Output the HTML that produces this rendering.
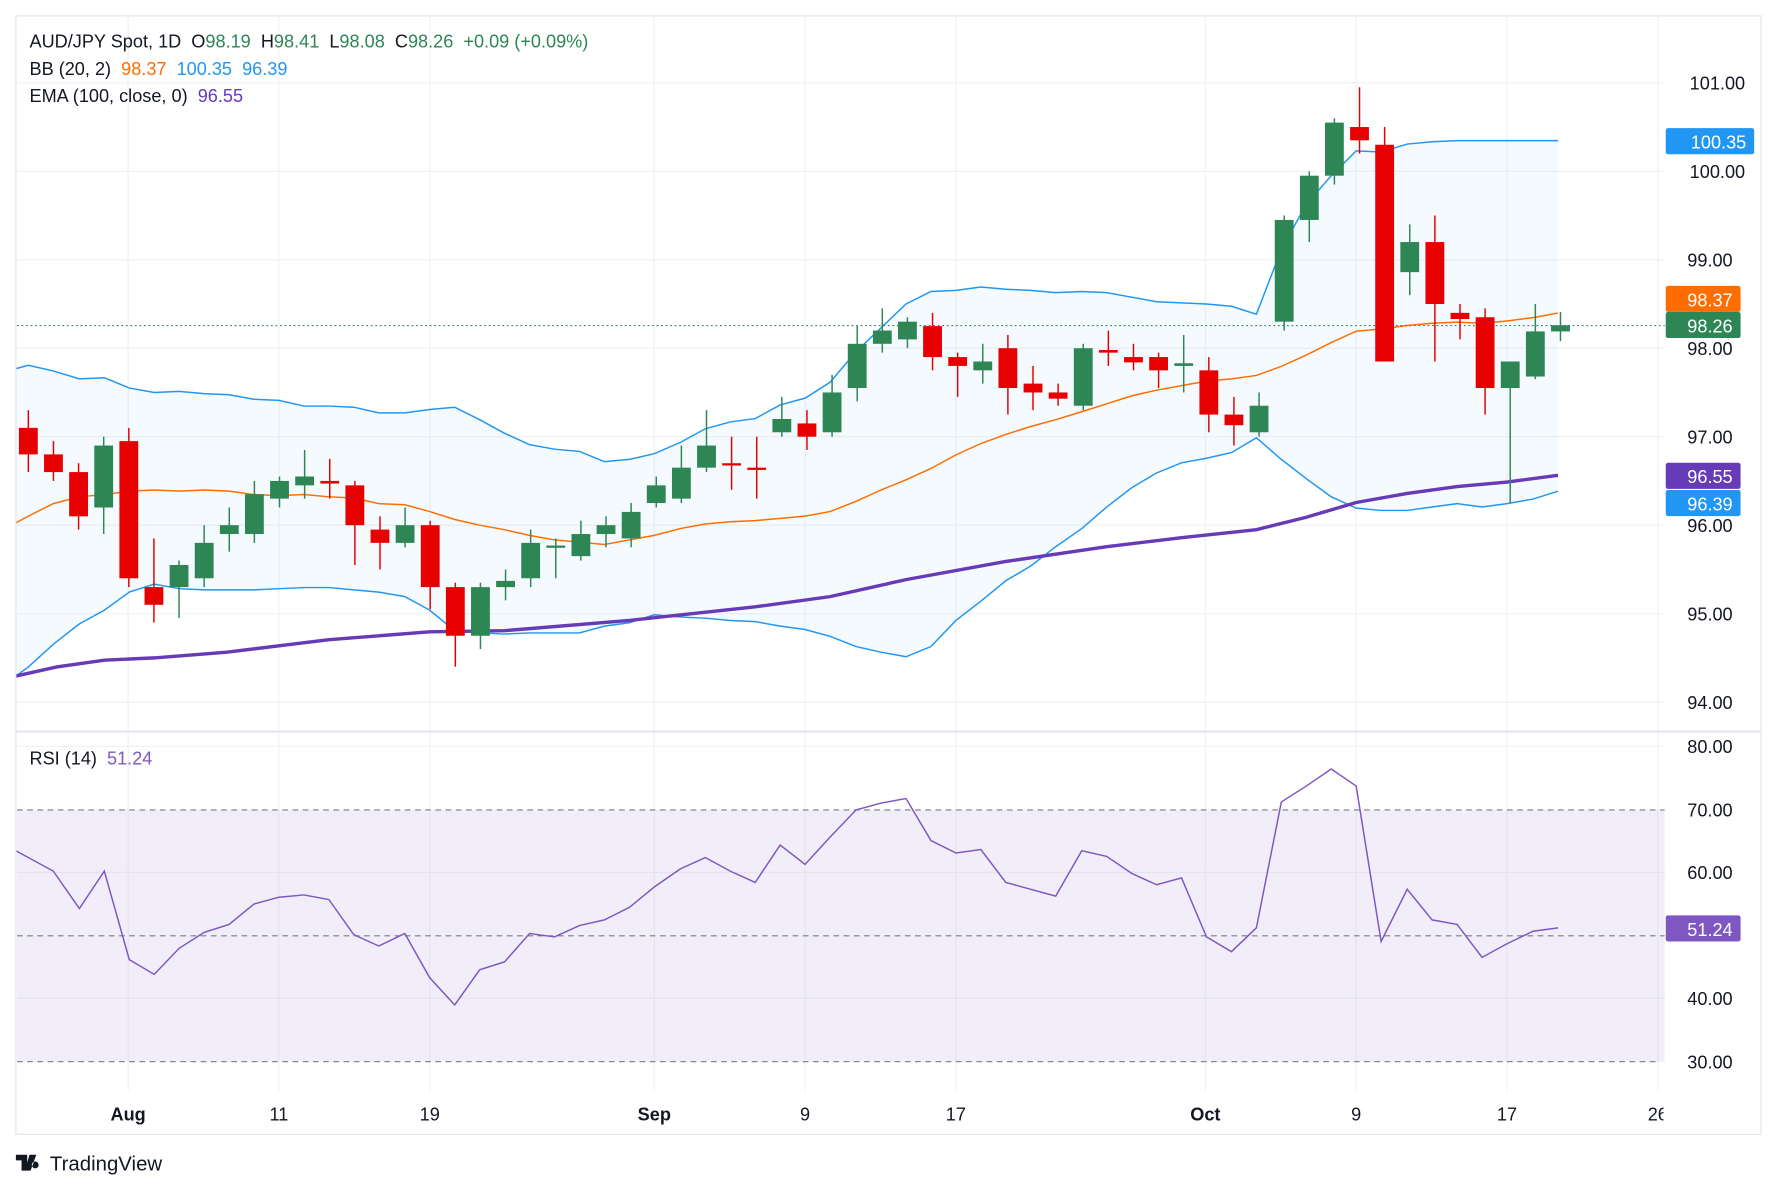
<!DOCTYPE html>
<html><head><meta charset="utf-8">
<style>
html,body{margin:0;padding:0;background:#fff;}
svg{display:block;font-family:"Liberation Sans",Arial,sans-serif;}
svg text{white-space:pre;}
</style></head>
<body>
<svg id="s" width="1778" height="1191" viewBox="0 0 1568 1050" preserveAspectRatio="none" xmlns="http://www.w3.org/2000/svg" xml:space="preserve">
<rect x="0" y="0" width="1568" height="1050" fill="#fff"/>
<g id="grid" stroke="#f0f1f4" stroke-width="1"></g>
<g id="bg"></g>
<g id="lines"></g>
<g id="candles"></g>
<rect x="14" y="14" width="1539" height="986" fill="none" stroke="#e0e3eb" stroke-width="1"/>
<line x1="14" y1="645" x2="1553" y2="645" stroke="#e0e3eb" stroke-width="1.5"/>
<g font-size="16" fill="#131722">
<text x="26" y="42">AUD/JPY Spot, 1D  O<tspan fill="#2e8655">98.19</tspan>  H<tspan fill="#2e8655">98.41</tspan>  L<tspan fill="#2e8655">98.08</tspan>  C<tspan fill="#2e8655">98.26</tspan>  <tspan fill="#2e8655">+0.09 (+0.09%)</tspan></text>
<text x="26" y="66">BB (20, 2)  <tspan fill="#ff6d00">98.37</tspan>  <tspan fill="#2196f3">100.35</tspan>  <tspan fill="#2196f3">96.39</tspan></text>
<text x="26" y="90">EMA (100, close, 0)  <tspan fill="#673ab7">96.55</tspan></text>
<text x="26" y="674">RSI (14)  <tspan fill="#7e57c2">51.24</tspan></text>
</g>
<g font-size="16" fill="#131722" text-anchor="end">
<text x="1539" y="79">101.00</text><text x="1539" y="157">100.00</text>
<text x="1528" y="235">99.00</text><text x="1528" y="313">98.00</text>
<text x="1528" y="391">97.00</text><text x="1528" y="469">96.00</text>
<text x="1528" y="547">95.00</text><text x="1528" y="625">94.00</text>
<text x="1528" y="664">80.00</text><text x="1528" y="720">70.00</text>
<text x="1528" y="775">60.00</text><text x="1528" y="886">40.00</text>
<text x="1528" y="942">30.00</text>
</g>
<g font-size="16" fill="#131722" text-anchor="middle">
<text x="113" y="988" font-weight="bold">Aug</text><text x="246" y="988">11</text><text x="379" y="988">19</text>
<text x="577" y="988" font-weight="bold">Sep</text><text x="710" y="988">9</text><text x="843" y="988">17</text>
<text x="1063" y="988" font-weight="bold">Oct</text><text x="1196" y="988">9</text><text x="1329" y="988">17</text>
<text x="1462" y="988">26</text>
</g>
<rect x="1467" y="970" width="20" height="26" fill="#fff"/>
<g font-size="16" fill="#fff" text-anchor="end">
<rect x="1469" y="113" width="78" height="23" rx="2" fill="#2196f3"/><text x="1540" y="131">100.35</text>
<rect x="1469" y="252" width="66" height="23" rx="2" fill="#ff6d00"/><text x="1528" y="270">98.37</text>
<rect x="1469" y="275" width="66" height="23" rx="2" fill="#2e8655"/><text x="1528" y="293">98.26</text>
<rect x="1469" y="408" width="66" height="23" rx="2" fill="#673ab7"/><text x="1528" y="426">96.55</text>
<rect x="1469" y="432" width="66" height="23" rx="2" fill="#2196f3"/><text x="1528" y="450">96.39</text>
<rect x="1469" y="807" width="66" height="23" rx="2" fill="#7e57c2"/><text x="1528" y="825">51.24</text>
</g>
<g fill="#131722">
<text x="44" y="1032" font-size="18">TradingView</text>
<path d="M14 1018h10v14h-5v-9h-5z M26 1018h6l-5 14h-5z M31 1024a3 3 0 1 0 0.1 0z" />
</g>
</svg>
<script>
var NS="http://www.w3.org/2000/svg";
function el(p,t,a){var e=document.createElementNS(NS,t);for(var k in a)e.setAttribute(k,a[k]);document.getElementById(p).appendChild(e);return e;}
function py(p){return 73+(101-p)*78;}
var vx=[113,246,379,577,710,843,1063,1196,1329,1462];
vx.forEach(function(x){el('grid','line',{x1:x,y1:15,x2:x,y2:962});});
[73,151,229,307,385,463,541,619,658,769,880].forEach(function(y){el('grid','line',{x1:15,y1:y,x2:1468,y2:y});});
var up=[[14,325],[25,322],[47,327],[70,334],[92,333],[114,342],[136,346],[158,345],[180,347],[202,348],[224,352],[246,353],[268,358],[290,358],[312,359],[334,364],[357,364],[379,361],[401,359],[423,370],[445,382],[467,392],[489,396],[511,398],[533,407],[555,405],[577,400],[600,390],[622,378],[644,372],[666,369],[688,357],[710,351],[732,337],[755,310],[777,289],[799,268],[821,257],[843,256],[865,253],[887,255],[909,256],[931,258],[954,257],[976,258],[998,262],[1020,266],[1042,267],[1064,268],[1086,270],[1108,277],[1130,220],[1152,180],[1174,155],[1196,133],[1218,134],[1241,127],[1263,125],[1285,124],[1307,124],[1329,124],[1352,124],[1374,124]];
var lo=[[14,596],[25,588],[47,568],[70,550],[92,538],[114,522],[136,515],[158,519],[180,520],[202,520],[224,520],[246,519],[268,518],[290,518],[312,520],[334,522],[357,526],[379,538],[401,556],[423,558],[445,559],[467,558],[489,558],[511,558],[533,552],[555,549],[577,542],[600,544],[622,545],[644,547],[666,548],[688,552],[710,555],[732,561],[755,570],[777,575],[799,579],[821,570],[843,547],[865,530],[887,512],[909,499],[931,482],[954,466],[976,447],[998,430],[1020,417],[1042,408],[1064,404],[1086,399],[1108,386],[1130,405],[1152,422],[1174,438],[1196,448],[1218,450],[1241,450],[1263,447],[1285,444],[1307,447],[1329,444],[1352,440],[1374,433]];
var mid=[[14,461],[25,455],[47,444],[70,438],[92,436],[114,433],[136,432],[158,433],[180,432],[202,433],[224,436],[246,437],[268,436],[290,438],[312,439],[334,444],[357,445],[379,451],[401,458],[423,463],[445,467],[467,472],[489,476],[511,478],[533,480],[555,476],[577,472],[600,466],[622,462],[644,460],[666,459],[688,457],[710,455],[732,451],[755,442],[777,432],[799,423],[821,413],[843,401],[865,391],[887,383],[909,376],[931,370],[954,363],[976,356],[998,349],[1020,344],[1042,340],[1064,336],[1086,334],[1108,331],[1130,323],[1152,313],[1174,302],[1196,292],[1218,290],[1241,287],[1263,285],[1285,284],[1307,285],[1329,283],[1352,280],[1374,276]];
var ema=[[14,596],[50,588],[92,582],[136,580],[200,575],[290,564],[379,557],[445,556],[555,547],[666,535],[732,526],[799,511],[887,495],[976,482],[1042,474],[1108,467],[1152,456],[1196,443],[1241,435],[1285,429],[1329,425],[1374,419]];
var rsi=[[14,750],[47,768],[70,801],[92,768],[114,846],[136,859],[158,836],[180,822],[202,815],[224,797],[246,791],[268,789],[290,793],[312,824],[334,834],[357,823],[379,862],[401,886],[423,855],[445,848],[467,823],[489,826],[511,816],[533,811],[555,800],[577,782],[600,766],[622,756],[644,768],[666,778],[688,745],[710,762],[732,738],[755,714],[777,708],[799,704],[821,741],[843,752],[865,749],[887,778],[909,784],[931,790],[954,750],[976,755],[998,770],[1020,780],[1042,774],[1064,826],[1086,839],[1108,818],[1130,707],[1152,693],[1174,678],[1196,693],[1218,830],[1241,784],[1263,811],[1285,815],[1307,844],[1329,832],[1352,821],[1374,818]];
function pts(a){return a.map(function(p){return p.join(',');}).join(' ');}
el('bg','polygon',{points:pts(up)+' '+pts(lo.slice().reverse()),fill:'rgba(33,150,243,0.05)'});
el('bg','rect',{x:15,y:714,width:1453,height:222,fill:'rgba(126,87,194,0.1)'});
[[714,1468],[825,1468],[936,1462]].forEach(function(a){el('bg','line',{x1:15,y1:a[0],x2:a[1],y2:a[0],stroke:'#787b86','stroke-width':1,'stroke-dasharray':'5,4'});});
el('lines','polyline',{points:pts(up),fill:'none',stroke:'#2196f3','stroke-width':1.3});
el('lines','polyline',{points:pts(lo),fill:'none',stroke:'#2196f3','stroke-width':1.3});
el('lines','polyline',{points:pts(mid),fill:'none',stroke:'#ff6d00','stroke-width':1.3});
el('lines','polyline',{points:pts(ema),fill:'none',stroke:'#673ab7','stroke-width':3});
el('lines','polyline',{points:pts(rsi),fill:'none',stroke:'#7e57c2','stroke-width':1.3});
el('lines','line',{x1:15,y1:287,x2:1468,y2:287,stroke:'#2e8655','stroke-width':1,'stroke-dasharray':'1.5,2.5'});
var c=[[97.1,97.3,96.6,96.8],[96.8,96.95,96.5,96.6],[96.6,96.7,95.95,96.1],[96.2,97.0,95.9,96.9],[96.95,97.1,95.3,95.4],[95.3,95.85,94.9,95.1],[95.3,95.6,94.95,95.55],[95.4,96.0,95.3,95.8],[95.9,96.2,95.7,96.0],[95.9,96.5,95.8,96.35],[96.3,96.55,96.2,96.5],[96.45,96.85,96.3,96.55],[96.5,96.75,96.3,96.47],[96.45,96.5,95.55,96.0],[95.95,96.1,95.5,95.8],[95.8,96.2,95.75,96.0],[96.0,96.05,95.05,95.3],[95.3,95.35,94.4,94.75],[94.75,95.35,94.6,95.3],[95.3,95.5,95.15,95.37],[95.4,95.95,95.3,95.8],[95.75,95.85,95.4,95.77],[95.65,96.05,95.6,95.9],[95.9,96.1,95.75,96.0],[95.85,96.25,95.75,96.15],[96.25,96.55,96.2,96.45],[96.3,96.9,96.25,96.65],[96.65,97.3,96.6,96.9],[96.7,97.0,96.4,96.68],[96.65,97.0,96.3,96.63],[97.05,97.45,97.0,97.2],[97.15,97.3,96.85,97.0],[97.05,97.7,97.0,97.5],[97.55,98.25,97.4,98.05],[98.05,98.45,97.95,98.2],[98.1,98.35,98.0,98.3],[98.25,98.4,97.75,97.9],[97.9,97.95,97.45,97.8],[97.75,98.05,97.6,97.85],[98.0,98.15,97.25,97.55],[97.6,97.8,97.3,97.5],[97.5,97.6,97.35,97.43],[97.35,98.05,97.3,98.0],[97.98,98.2,97.8,97.95],[97.9,98.05,97.75,97.84],[97.9,97.95,97.55,97.75],[97.8,98.15,97.5,97.83],[97.75,97.9,97.05,97.25],[97.25,97.45,96.9,97.13],[97.05,97.5,97.0,97.35],[98.3,99.5,98.2,99.45],[99.45,100.0,99.2,99.95],[99.95,100.6,99.85,100.55],[100.5,100.95,100.2,100.35],[100.3,100.5,97.85,97.85],[98.86,99.4,98.6,99.2],[99.2,99.5,97.85,98.5],[98.4,98.5,98.1,98.33],[98.35,98.45,97.25,97.55],[97.55,97.85,96.25,97.85],[97.68,98.5,97.65,98.19],[98.19,98.41,98.08,98.26]];
c.forEach(function(d,i){var x=25+i*22.15;var g=d[3]>=d[0];var col=g?'#2e8655':'#e60000';
el('candles','line',{x1:x,y1:py(d[1]),x2:x,y2:py(d[2]),stroke:col,'stroke-width':1.3});
var t=py(Math.max(d[0],d[3])),b=py(Math.min(d[0],d[3]));if(b-t<2){b=t+2;}
el('candles','rect',{x:x-8.3,y:t,width:16.6,height:b-t,fill:col});});
</script>
</body></html>
